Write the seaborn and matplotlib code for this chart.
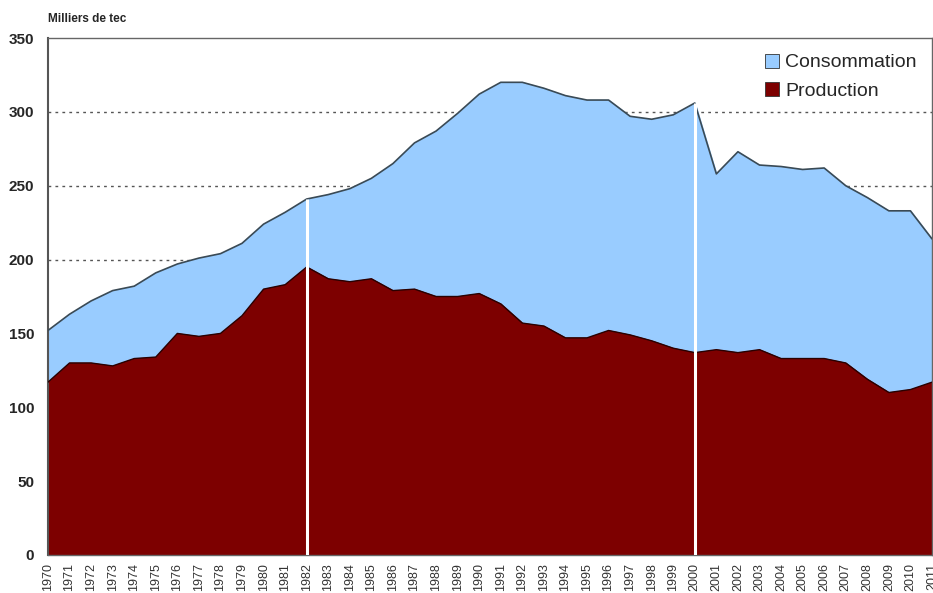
import numpy as np
import pandas as pd
import seaborn as sns
import matplotlib.pyplot as plt

years = list(range(1970, 2012))
consommation = [152, 163, 172, 179, 182, 191, 197, 201, 204, 211,
                224, 232, 241, 244, 248, 255, 265, 279, 287, 299,
                312, 320, 320, 316, 311, 308, 308, 297, 295, 298,
                306, 258, 273, 264, 263, 261, 262, 250, 242, 233,
                233, 214]
production = [117, 130, 130, 128, 133, 134, 150, 148, 150, 162,
              180, 183, 195, 187, 185, 187, 179, 180, 175, 175,
              177, 170, 157, 155, 147, 147, 152, 149, 145, 140,
              137, 139, 137, 139, 133, 133, 133, 130, 119, 110,
              112, 117]
white_years = [1982, 2000]

sns.set_style('white')
plt.rcParams['font.family'] = ['Liberation Sans', 'DejaVu Sans']
df = pd.DataFrame({'Année': years, 'Consommation': consommation,
                   'Production': production})

fig = plt.figure(figsize=(9.33, 5.93), dpi=100)
ax = fig.add_axes([0.0514, 0.0641, 0.9475, 0.8718])

for v in [50, 100, 150, 200, 250, 300]:
    ax.axhline(v, color='#555555', lw=1, ls=(0, (2, 3)), zorder=0)

ax.fill_between(df['Année'], 0, df['Consommation'], color='#99CCFF',
                zorder=1, label='Consommation')
ax.fill_between(df['Année'], 0, df['Production'], color='#7d0000',
                zorder=2, label='Production')
sns.lineplot(data=df, x='Année', y='Consommation', color='#3a4a55',
             lw=1.2, ax=ax, zorder=3)
sns.lineplot(data=df, x='Année', y='Production', color='#2a0000',
             lw=1, ax=ax, zorder=3)

for yr in white_years:
    top = df.loc[df['Année'] == yr, 'Consommation'].iloc[0]
    ax.vlines(yr, 0, top, color='white', lw=2.2, zorder=4)

ax.set_xlim(1970, 2011)
ax.set_ylim(0, 350)
ax.set_xticks(years)
ax.set_xticklabels([str(y) for y in years], rotation=90, fontsize=9,
                   color='#333333')
ax.set_yticks(range(0, 351, 50))
ax.set_yticklabels([str(v) for v in range(0, 351, 50)], fontsize=11,
                   fontweight='bold')
ax.tick_params(axis='both', which='both', length=4, width=1,
               color='#555555', direction='out', pad=2)
ax.tick_params(axis='y', pad=6)
ax.set_xlabel('')
ax.set_ylabel('')
for name, sp in ax.spines.items():
    sp.set_color('#666666')
    sp.set_linewidth(1)
ax.spines['left'].set_linewidth(1.5)
ax.spines['left'].set_color('#555555')

ax.text(0.0, 1.025, 'Milliers de tec', transform=ax.transAxes,
        fontsize=8.5, fontweight='bold', ha='left', va='bottom')

leg = ax.legend(loc='upper right', frameon=False, fontsize=14,
                handlelength=0.75, handleheight=0.75, handletextpad=0.3,
                labelspacing=0.55, borderaxespad=0.4)
for h in leg.legend_handles:
    h.set_edgecolor('#333333')
    h.set_linewidth(0.6)

fig.savefig('out.png', dpi=100)
